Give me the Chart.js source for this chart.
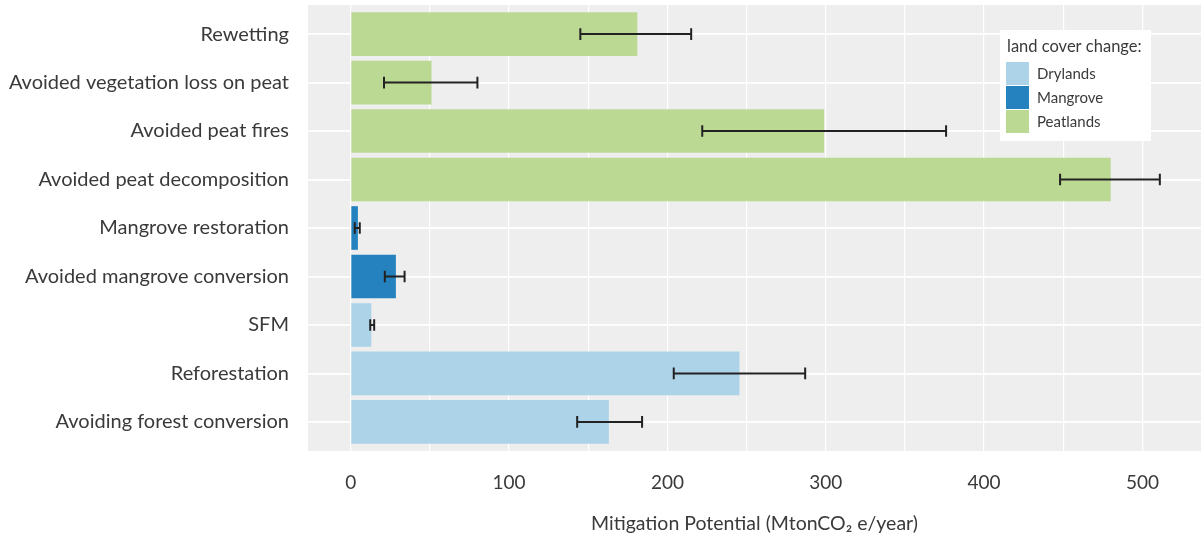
<!DOCTYPE html>
<html>
<head>
<meta charset="utf-8">
<script src="https://cdn.jsdelivr.net/npm/chart.js@4.4.1/dist/chart.umd.min.js"></script>
<style>
  html, body { margin: 0; padding: 0; background: #ffffff; }
  #wrap { width: 1201px; height: 539px; }
</style>
</head>
<body>
<div id="wrap"><canvas id="c" width="1201" height="539"></canvas></div>
<script>
// ---- data ----
const categories = [
  "Rewetting",
  "Avoided vegetation loss on peat",
  "Avoided peat fires",
  "Avoided peat decomposition",
  "Mangrove restoration",
  "Avoided mangrove conversion",
  "SFM",
  "Reforestation",
  "Avoiding forest conversion"
];
const values    = [181, 51, 299, 480, 4.5, 28.5, 13, 245.5, 163];
const lowValues = [145, 21, 222, 448, 2.5, 21.5, 12.3, 204, 143];
const highValues= [215, 80, 376, 511, 5.7, 34, 14.8, 287, 184];
const groups    = ["Peatlands","Peatlands","Peatlands","Peatlands","Mangrove","Mangrove","Drylands","Drylands","Drylands"];
const groupNames = ["Drylands", "Mangrove", "Peatlands"];
const xTicks = [0, 50, 100, 150, 200, 250, 300, 350, 400, 450, 500];
const legendTitle = "land cover change:";
const xTitle = "Mitigation Potential (MtonCO\u2082 e/year)";

// ---- styles ----
const groupColors = { Drylands: "#acd3e8", Mangrove: "#2582bf", Peatlands: "#bcd994" };
const FONT = "Lato, 'Open Sans', 'DejaVu Sans', sans-serif";
const TEXT = "#3a3a3a";

const datasets = groupNames.map(g => ({
  label: g,
  backgroundColor: groupColors[g],
  borderWidth: 0,
  grouped: false,
  barPercentage: 0.9,
  categoryPercentage: 1.0,
  data: categories.map((c, i) => groups[i] === g ? { x: values[i], y: i } : null).filter(d => d)
}));

const panelBg = {
  id: 'panelBg',
  beforeDraw(chart) {
    const { ctx, chartArea: a } = chart;
    ctx.save();
    ctx.fillStyle = "#edeeed";
    ctx.fillRect(a.left, a.top, a.right - a.left, a.bottom - a.top);
    ctx.restore();
  }
};

const errorBars = {
  id: 'errorBars',
  afterDatasetsDraw(chart) {
    const { ctx } = chart;
    const xs = chart.scales.x, ys = chart.scales.y;
    const capHalf = Math.abs(ys.getPixelForValue(0.12) - ys.getPixelForValue(0));
    ctx.save();
    ctx.strokeStyle = "#222222";
    ctx.lineWidth = 2;
    for (let i = 0; i < categories.length; i++) {
      const y = ys.getPixelForValue(i);
      const x1 = xs.getPixelForValue(lowValues[i]);
      const x2 = xs.getPixelForValue(highValues[i]);
      ctx.beginPath();
      ctx.moveTo(x1, y); ctx.lineTo(x2, y);
      ctx.moveTo(x1, y - capHalf); ctx.lineTo(x1, y + capHalf);
      ctx.moveTo(x2, y - capHalf); ctx.lineTo(x2, y + capHalf);
      ctx.stroke();
    }
    ctx.restore();
  }
};

const legendBox = {
  id: 'legendBox',
  afterDraw(chart) {
    const { ctx, chartArea: a } = chart;
    const left = a.right - 201, top = 30, w = 151, h = 111;
    ctx.save();
    ctx.fillStyle = "#ffffff";
    ctx.fillRect(left, top, w, h);
    ctx.fillStyle = TEXT;
    ctx.textBaseline = "middle";
    ctx.textAlign = "left";
    ctx.font = "16.5px " + FONT;
    ctx.fillText(legendTitle, left + 7, top + 17);
    ctx.font = "15px " + FONT;
    chart.data.datasets.forEach((ds, k) => {
      const ky = top + 32 + k * 24;
      ctx.fillStyle = ds.backgroundColor;
      ctx.fillRect(left + 6, ky, 23, 23);
      ctx.fillStyle = TEXT;
      ctx.fillText(ds.label, left + 37, ky + 12);
    });
    ctx.restore();
  }
};

new Chart(document.getElementById('c'), {
  type: 'bar',
  data: { datasets },
  options: {
    indexAxis: 'y',
    responsive: false,
    animation: false,
    devicePixelRatio: 1,
    layout: { padding: { top: 5, right: 0, left: 0, bottom: 0 } },
    plugins: { legend: { display: false }, tooltip: { enabled: false } },
    scales: {
      y: {
        type: 'linear',
        reverse: true,
        offset: false,
        min: -0.6,
        max: 8.6,
        afterBuildTicks(scale) { scale.ticks = categories.map((c, i) => ({ value: i })); },
        afterFit(scale) { scale.width = 308; scale.paddingTop = 0; scale.paddingBottom = 0; },
        border: { display: false },
        grid: { color: "#ffffff", lineWidth: 1.8, drawTicks: false, offset: false },
        ticks: {
          padding: 19,
          color: TEXT,
          font: { family: FONT, size: 20 },
          callback: (v) => categories[v] ?? ''
        }
      },
      x: {
        type: 'linear',
        offset: false,
        min: -27,
        max: 537,
        afterBuildTicks(scale) { scale.ticks = xTicks.map(v => ({ value: v })); },
        afterFit(scale) { scale.height = 88; scale.paddingLeft = 0; scale.paddingRight = 0; },
        border: { display: false },
        grid: { color: "#ffffff", lineWidth: 1.2, drawTicks: false, offset: false },
        ticks: {
          padding: 20,
          color: TEXT,
          font: { family: FONT, size: 19 },
          maxRotation: 0,
          autoSkip: false,
          callback: (v) => (v % 100 === 0 ? String(v) : '')
        },
        title: {
          display: true,
          text: xTitle,
          color: TEXT,
          font: { family: FONT, size: 19.5 },
          padding: { top: 0, bottom: 4 }
        }
      }
    }
  },
  plugins: [panelBg, errorBars, legendBox]
});
</script>
</body>
</html>
